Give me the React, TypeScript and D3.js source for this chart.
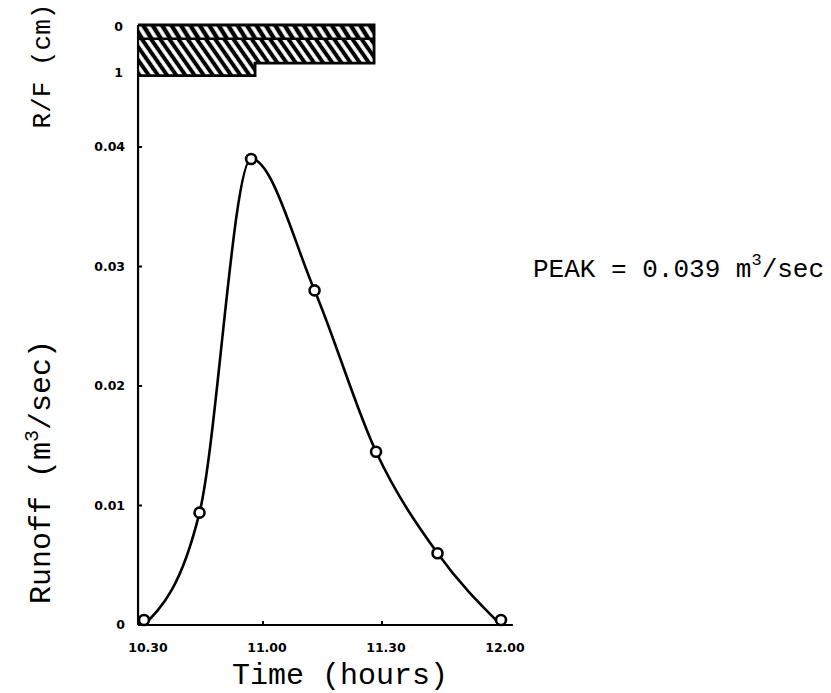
import React from "react";
import * as d3 from "d3";

// Runoff hydrograph: minutes after 10:30 and discharge (m^3/sec)
const minutes = [0, 14, 27, 43, 58.5, 74, 90];
const runoff = [0, 0.0094, 0.039, 0.028, 0.0145, 0.006, 0];

// Rainfall blocks (cm) over two intervals
const rainStart = [-1.5, 28];
const rainEnd = [28, 58];
const rainUpper = [0.3, 0.3];
const rainTotal = [1.1, 0.83];

const xTicks = [0, 30, 60, 90];
const xTickLabels = ["10.30", "11.00", "11.30", "12.00"];
const yTicks = [0, 0.01, 0.02, 0.03, 0.04];
const yTickLabels = ["0", "0.01", "0.02", "0.03", "0.04"];
const rfTicks = [0, 1];
const rfTickLabels = ["0", "1"];

const W = 831;
const H = 693;
const axisStart = -1.5;
const axisEnd = 93;

export default function App() {
  const x = d3.scaleLinear().domain([0, 90]).range([144, 501]);
  const y = d3.scaleLinear().domain([0, 0.04]).range([625, 147]);
  const rf = d3.scaleLinear().domain([0, 1]).range([25, 71]);

  const line = d3
    .line<number>()
    .x((_, i) => x(minutes[i]))
    .y((d) => y(d))
    .curve(d3.curveMonotoneX);

  const x0 = x(axisStart);
  const mono = "'Courier New', 'Liberation Mono', monospace";
  const tickFont = "'DejaVu Sans', sans-serif";

  // outline of the rainfall blocks
  const outline = d3.path();
  outline.moveTo(x(rainStart[0]), rf(0));
  outline.lineTo(x(rainEnd[1]), rf(0));
  outline.lineTo(x(rainEnd[1]), rf(rainTotal[1]));
  outline.lineTo(x(rainEnd[0]), rf(rainTotal[1]));
  outline.lineTo(x(rainEnd[0]), rf(rainTotal[0]));
  outline.lineTo(x(rainStart[0]), rf(rainTotal[0]));

  return (
    <svg width={W} height={H} style={{ position: "absolute", left: 0, top: 0, background: "#fff" }}>
      <defs>
        <pattern id="hatchA" width="8" height="8" patternUnits="userSpaceOnUse" patternTransform="rotate(-32)">
          <line x1="4" y1="0" x2="4" y2="8" stroke="#000" strokeWidth="4.4" />
        </pattern>
        <pattern id="hatchB" width="7.5" height="8" patternUnits="userSpaceOnUse" patternTransform="rotate(-35)">
          <line x1="3.75" y1="0" x2="3.75" y2="8" stroke="#000" strokeWidth="4" />
        </pattern>
      </defs>

      {/* rainfall hyetograph */}
      {rainStart.map((s, i) => (
        <g key={"rain" + i}>
          <rect x={x(s)} y={rf(0)} width={x(rainEnd[i]) - x(s)} height={rf(rainUpper[i]) - rf(0)} fill="url(#hatchA)" />
          <rect
            x={x(s)}
            y={rf(rainUpper[i])}
            width={x(rainEnd[i]) - x(s)}
            height={rf(rainTotal[i]) - rf(rainUpper[i])}
            fill="url(#hatchB)"
          />
        </g>
      ))}
      <line x1={x(rainStart[0])} x2={x(rainEnd[1])} y1={rf(rainUpper[0])} y2={rf(rainUpper[0])} stroke="#000" strokeWidth={2.5} />
      <path d={outline.toString()} fill="none" stroke="#000" strokeWidth={2.8} />

      {/* axes */}
      <line x1={x0} x2={x0} y1={rf(0)} y2={y(0)} stroke="#000" strokeWidth={2.2} />
      <line x1={x0} x2={x(axisEnd)} y1={y(0)} y2={y(0)} stroke="#000" strokeWidth={2.2} />

      {yTicks.map((t, i) => (
        <g key={"yt" + i}>
          {t > 0 && <line x1={x0} x2={x0 + 4} y1={y(t)} y2={y(t)} stroke="#000" strokeWidth={2} />}
          <text
            x={x0 - 13}
            y={y(t)}
            dy="0.35em"
            textAnchor="end"
            fontFamily={tickFont}
            fontWeight="bold"
            fontSize={12.5}
          >
            {yTickLabels[i]}
          </text>
        </g>
      ))}

      {rfTicks.map((t, i) => (
        <text
          key={"rf" + i}
          x={x0 - 15}
          y={rf(t) + 2}
          dy="0.35em"
          textAnchor="end"
          fontFamily={tickFont}
          fontWeight="bold"
          fontSize={12.5}
        >
          {rfTickLabels[i]}
        </text>
      ))}

      {xTicks.map((t, i) => (
        <g key={"xt" + i}>
          {t > 0 && t < 90 && <line x1={x(t)} x2={x(t)} y1={y(0)} y2={y(0) - 4} stroke="#000" strokeWidth={2} />}
          <text x={x(t) + 4} y={652} textAnchor="middle" fontFamily={tickFont} fontWeight="bold" fontSize={12.5}>
            {xTickLabels[i]}
          </text>
        </g>
      ))}

      {/* hydrograph */}
      <path d={line(runoff) ?? ""} fill="none" stroke="#000" strokeWidth={2.6} />
      {runoff.map((v, i) => (
        <circle key={"p" + i} cx={x(minutes[i])} cy={y(v) - (v === 0 ? 5 : 0)} r={5} fill="#fff" stroke="#000" strokeWidth={2.6} />
      ))}

      {/* titles */}
      <text x={340} y={684} textAnchor="middle" fontFamily={mono} fontSize={30}>
        Time (hours)
      </text>
      <text transform="translate(50,472) rotate(-90)" textAnchor="middle" fontFamily={mono} fontSize={30}>
        Runoff (m<tspan dy={-12} fontSize={20}>3</tspan>
        <tspan dy={12}>/sec)</tspan>
      </text>
      <text transform="translate(50,66) rotate(-90)" textAnchor="middle" fontFamily={mono} fontSize={26}>
        R/F (cm)
      </text>
      <text x={533} y={277} fontFamily={mono} fontSize={26}>
        PEAK = 0.039 m<tspan dy={-12} fontSize={17}>3</tspan>
        <tspan dy={12}>/sec</tspan>
      </text>
    </svg>
  );
}
